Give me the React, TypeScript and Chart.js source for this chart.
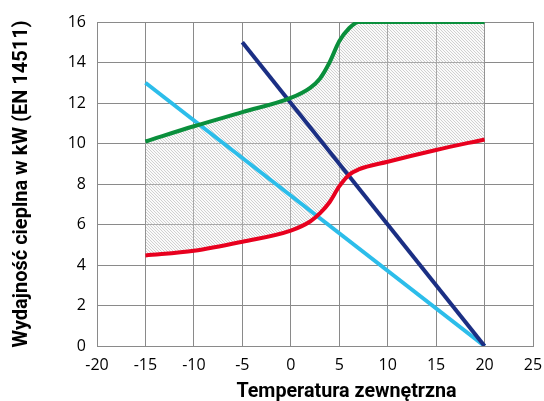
import React, { useEffect, useRef } from "react";
import { Chart, registerables } from "chart.js";

Chart.register(...registerables);

const temps = [-15, -10, -5, 0, 2, 3, 4, 5, 6, 7, 10, 15, 20];
const maxOutput = [10.1, 10.85, 11.55, 12.25, 12.75, 13.2, 14.0, 15.05, 15.68, 16.0, 16.0, 16.0, 16.0];
const minOutput = [4.47, 4.7, 5.15, 5.7, 6.15, 6.55, 7.1, 7.88, 8.45, 8.72, 9.1, 9.68, 10.2];
const demandHighX = [-5, 20];
const demandHighY = [15, 0];
const demandLowX = [-15, 20];
const demandLowY = [13, 0];
const xTicks = [-20, -15, -10, -5, 0, 5, 10, 15, 20, 25];
const yTicks = [0, 2, 4, 6, 8, 10, 12, 14, 16];
const xTitle = "Temperatura zewnętrzna";
const yTitle = "Wydajność cieplna w kW (EN 14511)";

function makeHatch(): CanvasPattern | string {
  const c = document.createElement("canvas");
  const s = 3;
  c.width = s;
  c.height = s;
  const g = c.getContext("2d");
  if (!g) return "rgba(200,200,200,0.5)";
  g.fillStyle = "rgba(240,240,240,0.3)";
  g.fillRect(0, 0, s, s);
  g.strokeStyle = "rgba(165,165,165,0.5)";
  g.lineWidth = 1;
  g.beginPath();
  g.moveTo(-1, -1);
  g.lineTo(s + 1, s + 1);
  g.moveTo(-1, s - 1);
  g.lineTo(1, s + 1);
  g.moveTo(s - 1, -1);
  g.lineTo(s + 1, 1);
  g.stroke();
  const p = g.createPattern(c, "repeat");
  return p || "rgba(200,200,200,0.5)";
}

const xTitlePlugin = {
  id: "xTitlePlugin",
  afterDraw(chart: any) {
    const { ctx, chartArea } = chart;
    ctx.save();
    ctx.font = "bold 19.7px Roboto, 'Open Sans', sans-serif";
    ctx.fillStyle = "#000";
    ctx.textAlign = "center";
    ctx.textBaseline = "alphabetic";
    const cx = (chartArea.left + chartArea.right) / 2 + 31.5;
    ctx.fillText(xTitle, cx, chartArea.bottom + 51);
    ctx.restore();
  },
};

export default function App() {
  const ref = useRef<HTMLCanvasElement | null>(null);

  useEffect(() => {
    if (!ref.current) return;
    const hatch = makeHatch();
    const tickFont = { family: "'Open Sans', sans-serif", size: 16 };
    const yTitleFont = { family: "Roboto, 'Open Sans', sans-serif", size: 20, weight: "bold" as const };
    const gridColor = "#8a8a8a";
    const chart = new Chart(ref.current, {
      type: "line",
      data: {
        datasets: [
          {
            label: "max",
            data: temps.map((t, i) => ({ x: t, y: maxOutput[i] })),
            borderColor: "#0a8f3c",
            borderWidth: 4,
            pointRadius: 0,
            cubicInterpolationMode: "monotone",
            fill: false,
          },
          {
            label: "min",
            data: temps.map((t, i) => ({ x: t, y: minOutput[i] })),
            borderColor: "#e8001e",
            backgroundColor: hatch as any,
            borderWidth: 4,
            pointRadius: 0,
            cubicInterpolationMode: "monotone",
            fill: 0,
          },
          {
            label: "demand high",
            data: demandHighX.map((t, i) => ({ x: t, y: demandHighY[i] })),
            borderColor: "#1b2f84",
            borderWidth: 4,
            pointRadius: 0,
            fill: false,
          },
          {
            label: "demand low",
            data: demandLowX.map((t, i) => ({ x: t, y: demandLowY[i] })),
            borderColor: "#2cbdea",
            borderWidth: 4,
            pointRadius: 0,
            fill: false,
          },
        ],
      },
      plugins: [xTitlePlugin],
      options: {
        animation: false,
        responsive: false,
        layout: { padding: { top: 22, right: 11, left: 0, bottom: 0 } },
        plugins: {
          legend: { display: false },
          tooltip: { enabled: false },
          filler: { drawTime: "beforeDatasetsDraw" },
        },
        scales: {
          x: {
            type: "linear",
            min: -20,
            max: 25,
            afterBuildTicks: (s: any) => {
              s.ticks = xTicks.map((v) => ({ value: v }));
            },
            afterFit: (s: any) => {
              s.height = 55;
              s.paddingRight = 0;
              s.paddingLeft = 0;
            },
            ticks: { color: "#000", font: tickFont, padding: 10, maxRotation: 0, autoSkip: false },
            grid: { color: gridColor, lineWidth: 1, drawTicks: false },
            border: { color: gridColor, width: 1 },
            title: { display: false },
          },
          y: {
            type: "linear",
            min: 0,
            max: 16,
            afterBuildTicks: (s: any) => {
              s.ticks = yTicks.map((v) => ({ value: v }));
            },
            afterFit: (s: any) => {
              s.width = 97;
            },
            ticks: { color: "#000", font: tickFont, padding: 11, autoSkip: false },
            grid: { color: gridColor, lineWidth: 1, drawTicks: false },
            border: { color: gridColor, width: 1 },
            title: {
              display: true,
              text: yTitle,
              color: "#000",
              font: yTitleFont,
              padding: { top: 10, bottom: 0 },
            },
          },
        },
      },
    });
    return () => chart.destroy();
  }, []);

  return (
    <div style={{ position: "fixed", left: 0, top: 0, width: 544, height: 401, background: "#fff" }}>
      <canvas ref={ref} width={544} height={401} style={{ width: 544, height: 401, display: "block" }} />
    </div>
  );
}
